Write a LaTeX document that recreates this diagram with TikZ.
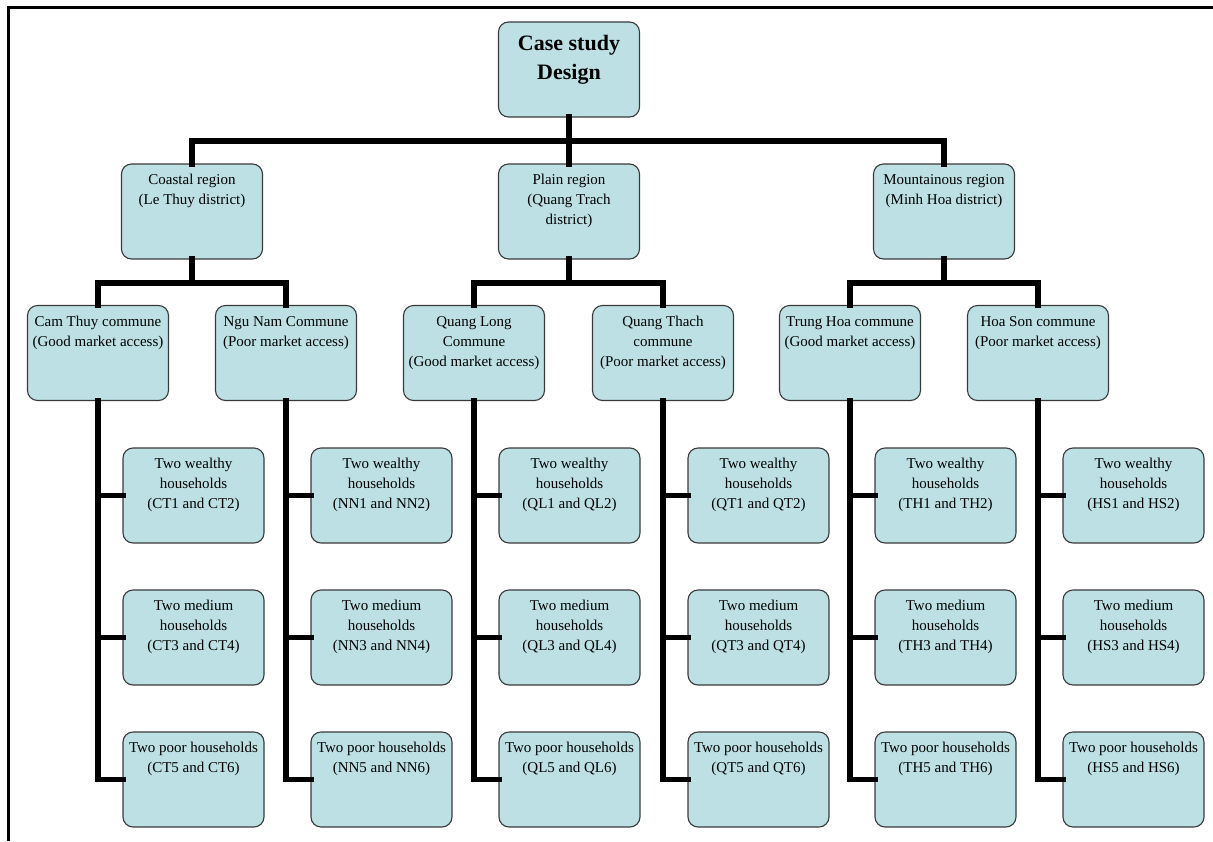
\documentclass[tikz,border=0pt]{standalone}
\usepackage{fontspec}
\setmainfont{Liberation Serif}
\usetikzlibrary{calc}

\definecolor{boxfill}{RGB}{188,224,227}
\definecolor{boxedge}{RGB}{58,58,58}

% fixed-size box body: text sits at the top of the box
\newcommand\boxbody[4]{%
  \parbox[c][95pt][t]{141pt}{\centering\fontsize{#1}{#2}\selectfont
    \vspace*{#3}\strut #4\par}}
\newcommand\plainbody[1]{\boxbody{15}{20}{6.5pt}{#1}}

\tikzset{
  cell/.style={draw=boxedge, fill=boxfill, line width=1.1pt,
    rounded corners=10pt, inner sep=0pt, outer sep=0pt},
  conn/.style={line width=5.5pt, line join=miter, line cap=rect},
  frame/.style={line width=3pt}
}

\begin{document}
\begin{tikzpicture}[x=1pt, y=-1pt]
\useasboundingbox (0,0) rectangle (1213,841);

% page frame
\draw[frame] (8,841) -- (8,7) -- (1213,7);

% top level
\node[cell] (root) at (569,69.5) {\boxbody{22}{29}{8pt}{\bfseries Case study\\Design}};

% regions
\node[cell] (coast) at (192,211.5) {\plainbody{Coastal region\\(Le Thuy district)}};
\node[cell] (plain) at (569,211.5) {\plainbody{Plain region\\(Quang Trach\\district)}};
\node[cell] (mount) at (944,211.5) {\plainbody{Mountainous region\\(Minh Hoa district)}};

% communes
\node[cell] (cam)    at (98,353)   {\plainbody{Cam Thuy commune\\(Good market access)}};
\node[cell] (ngu)    at (286,353)  {\plainbody{Ngu Nam Commune\\(Poor market access)}};
\node[cell] (qlong)  at (474,353)  {\plainbody{Quang Long\\Commune\\(Good market access)}};
\node[cell] (qthach) at (663,353)  {\plainbody{Quang Thach\\commune\\(Poor market access)}};
\node[cell] (trung)  at (850,353)  {\plainbody{Trung Hoa commune\\(Good market access)}};
\node[cell] (hoason) at (1038,353) {\plainbody{Hoa Son commune\\(Poor market access)}};

% bus junctions
\coordinate (busTop)   at (569,141);
\coordinate (busCoast) at (192,283);
\coordinate (busPlain) at (569,283);
\coordinate (busMount) at (944,283);

% root to regions
\draw[conn] (root.south) -- (busTop);
\draw[conn] (coast.north) |- (busTop) -| (mount.north);
\draw[conn] (busTop) -- (plain.north);

% regions to communes
\draw[conn] (coast.south) -- (busCoast);
\draw[conn] (cam.north) |- (busCoast) -| (ngu.north);
\draw[conn] (plain.south) -- (busPlain);
\draw[conn] (qlong.north) |- (busPlain) -| (qthach.north);
\draw[conn] (mount.south) -- (busMount);
\draw[conn] (trung.north) |- (busMount) -| (hoason.north);

% households under each commune
\foreach \com/\cx/\code in {cam/98/CT, ngu/286/NN, qlong/474/QL,
                            qthach/663/QT, trung/850/TH, hoason/1038/HS}{
  \node[cell] (\com-rich) at ({\cx+95.5},495.5)
    {\plainbody{Two wealthy\\households\\(\code1 and \code2)}};
  \node[cell] (\com-mid)  at ({\cx+95.5},637.5)
    {\plainbody{Two medium\\households\\(\code3 and \code4)}};
  \node[cell] (\com-poor) at ({\cx+95.5},779.5)
    {\plainbody{Two poor households\\(\code5 and \code6)}};
  \draw[conn] (\com.south) |- (\com-poor.west);
  \draw[conn] (\com.south |- \com-rich.west) -- (\com-rich.west);
  \draw[conn] (\com.south |- \com-mid.west) -- (\com-mid.west);
}
\end{tikzpicture}
\end{document}
